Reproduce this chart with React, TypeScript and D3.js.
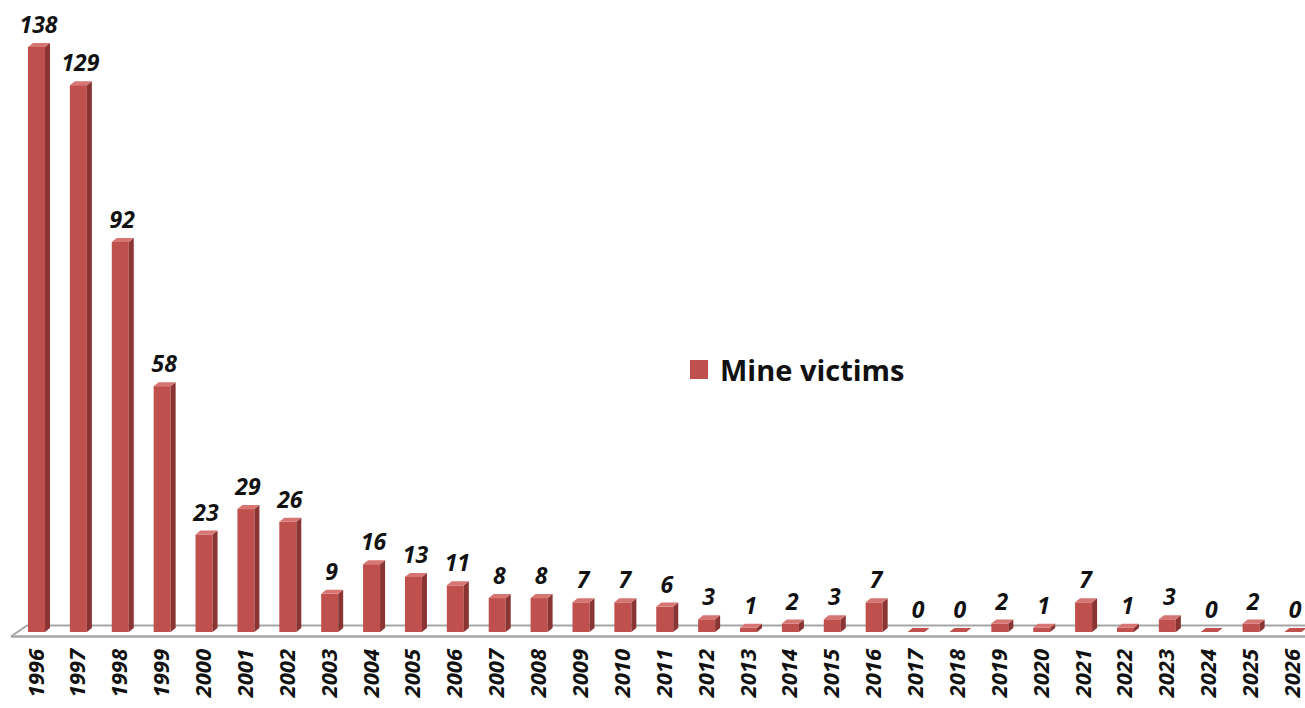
import React from "react";
import * as d3 from "d3";

const years = ["1996","1997","1998","1999","2000","2001","2002","2003","2004","2005","2006","2007","2008","2009","2010","2011","2012","2013","2014","2015","2016","2017","2018","2019","2020","2021","2022","2023","2024","2025","2026"];
const victims = [138,129,92,58,23,29,26,9,16,13,11,8,8,7,7,6,3,1,2,3,7,0,0,2,1,7,1,3,0,2,0];
const seriesName = "Mine victims";

const W = 1305, H = 708;
const FONT = "'Open Sans', 'Liberation Sans', sans-serif";

export default function App() {
  const x = d3.scalePoint<string>().domain(years).range([36.5, 1293]);
  const y = d3.scaleLinear().domain([0, 138]).range([632, 47]);
  const bw = 17, dx = 5, dy = 4;
  const front = "#c0504d", side = "#8a3533", top = "#d77572";
  return (
    <svg width={W} height={H} style={{ position: "absolute", left: 0, top: 0, background: "#fff" }}>
      {/* floor */}
      <path d={`M11,636.5 L27,625.5 L1305,625.5`} fill="none" stroke="#a6a6a6" strokeWidth={2} />
      <path d={`M11,636.5 L1305,636.5`} fill="none" stroke="#a6a6a6" strokeWidth={2.5} />
      {years.map((yr, i) => {
        const cx = x(yr)!;
        const x0 = cx - bw / 2, x1 = cx + bw / 2;
        const y0 = y(0), yt = y(victims[i]);
        return (
          <g key={yr}>
            {victims[i] > 0 && <rect x={x0} y={yt} width={bw} height={y0 - yt} fill={front} />}
            {victims[i] > 0 && (
              <path d={`M${x1},${yt} L${x1 + dx},${yt - dy} L${x1 + dx},${y0 - dy} L${x1},${y0} Z`} fill={side} />
            )}
            <path d={`M${x0},${yt} L${x0 + dx},${yt - dy} L${x1 + dx},${yt - dy} L${x1},${yt} Z`} fill={victims[i] > 0 ? top : front} />
            <text x={cx + 2} y={yt - 14} textAnchor="middle" fontFamily={FONT} fontWeight="bold" fontStyle="italic" fontSize={23} fill="#111">
              {victims[i]}
            </text>
            <text transform={`translate(${cx - 2},649) rotate(-90)`} textAnchor="end" dominantBaseline="central" fontFamily={FONT} fontWeight="bold" fontStyle="italic" fontSize={22} fill="#111">
              {yr}
            </text>
          </g>
        );
      })}
      <rect x={690} y={360} width={18} height={19} fill={front} />
      <text x={720} y={381} fontFamily={FONT} fontWeight="bold" fontSize={29} fill="#111">{seriesName}</text>
    </svg>
  );
}
